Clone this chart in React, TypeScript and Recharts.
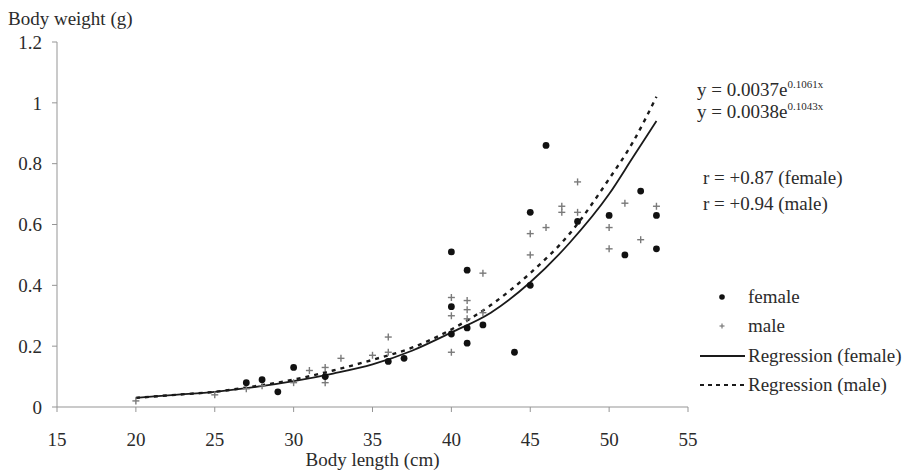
import React from 'react';
import { ComposedChart, Scatter, Line, XAxis, YAxis } from 'recharts';

const femaleLength = [27, 28, 29, 30, 32, 36, 37, 40, 40, 40, 41, 41, 41, 42, 44, 45, 45, 46, 48, 50, 51, 52, 53, 53];
const femaleWeight = [0.08, 0.09, 0.05, 0.13, 0.1, 0.15, 0.16, 0.51, 0.33, 0.24, 0.45, 0.26, 0.21, 0.27, 0.18, 0.4, 0.64, 0.86, 0.61, 0.63, 0.5, 0.71, 0.63, 0.52];

const maleLength = [20, 25, 27, 28, 30, 31, 32, 32, 32, 33, 35, 36, 36, 40, 40, 40, 41, 41, 41, 42, 42, 45, 45, 46, 47, 47, 48, 48, 50, 50, 51, 52, 53];
const maleWeight = [0.02, 0.04, 0.06, 0.07, 0.08, 0.12, 0.13, 0.1, 0.08, 0.16, 0.17, 0.23, 0.18, 0.36, 0.3, 0.18, 0.35, 0.32, 0.29, 0.44, 0.31, 0.57, 0.5, 0.59, 0.66, 0.64, 0.74, 0.64, 0.59, 0.52, 0.67, 0.55, 0.66];

const regLength = [20, 22.5, 25, 27.5, 30, 32.5, 35, 37.5, 40, 42.5, 45, 47.5, 50, 51.5, 53];
const regFemale = [0.03, 0.04, 0.05, 0.065, 0.085, 0.11, 0.14, 0.185, 0.245, 0.31, 0.41, 0.54, 0.7, 0.82, 0.94];
const regMale = [0.03, 0.04, 0.05, 0.068, 0.09, 0.12, 0.155, 0.195, 0.255, 0.335, 0.44, 0.57, 0.75, 0.87, 1.02];

const xTicks = [15, 20, 25, 30, 35, 40, 45, 50, 55];
const yTicks = [0, 0.2, 0.4, 0.6, 0.8, 1, 1.2];

const femaleData = femaleLength.map((x, i) => ({ x, y: femaleWeight[i] }));
const maleData = maleLength.map((x, i) => ({ x, y: maleWeight[i] }));
const regFemaleData = regLength.map((x, i) => ({ x, y: regFemale[i] }));
const regMaleData = regLength.map((x, i) => ({ x, y: regMale[i] }));

const FONT = '"Liberation Serif", "Times New Roman", serif';
const TEXT = '#2b2b2b';
const AXIS = '#959595';
const FS = 19;

const DotShape = (props: any) => {
  const { cx, cy } = props;
  if (cx == null || cy == null) return null;
  return <circle cx={cx} cy={cy} r={3.4} fill="#111" />;
};

const PlusShape = (props: any) => {
  const { cx, cy } = props;
  if (cx == null || cy == null) return null;
  return (
    <g stroke="#7a7a7a" strokeWidth={1.4}>
      <line x1={cx - 3.5} x2={cx + 3.5} y1={cy} y2={cy} />
      <line x1={cx} x2={cx} y1={cy - 3.5} y2={cy + 3.5} />
    </g>
  );
};

const textStyle: React.CSSProperties = {
  position: 'absolute',
  fontFamily: FONT,
  fontSize: FS,
  color: TEXT,
  lineHeight: 1,
  whiteSpace: 'nowrap',
};

export default function App() {
  return (
    <div style={{ position: 'absolute', left: 0, top: 0, width: 911, height: 474, background: '#fff' }}>
      <ComposedChart
        width={911}
        height={474}
        margin={{ top: 42, right: 223, bottom: 0, left: 0 }}
      >
        <XAxis
          type="number"
          dataKey="x"
          domain={[15, 55]}
          ticks={xTicks}
          interval={0}
          allowDataOverflow
          height={67}
          stroke={AXIS}
          tickSize={5}
          tickMargin={21}
          tick={{ fill: TEXT, fontSize: FS, fontFamily: FONT }}
          label={{ value: 'Body length (cm)', position: 'insideBottom', offset: 8, fill: TEXT, fontSize: FS, fontFamily: FONT }}
        />
        <YAxis
          type="number"
          dataKey="y"
          domain={[0, 1.2]}
          ticks={yTicks}
          interval={0}
          allowDataOverflow
          width={57}
          stroke={AXIS}
          tickSize={5}
          tickMargin={10}
          tick={{ fill: TEXT, fontSize: FS, fontFamily: FONT }}
        />
        <Line
          data={regMaleData}
          dataKey="y"
          type="monotone"
          stroke="#1a1a1a"
          strokeWidth={2.4}
          strokeDasharray="4 5"
          dot={false}
          activeDot={false}
          isAnimationActive={false}
        />
        <Line
          data={regFemaleData}
          dataKey="y"
          type="monotone"
          stroke="#1a1a1a"
          strokeWidth={1.8}
          dot={false}
          activeDot={false}
          isAnimationActive={false}
        />
        <Scatter data={maleData} dataKey="y" shape={PlusShape} isAnimationActive={false} />
        <Scatter data={femaleData} dataKey="y" shape={DotShape} isAnimationActive={false} />
      </ComposedChart>

      <div style={{ ...textStyle, left: 8, top: 9 }}>Body weight (g)</div>

      <div style={{ ...textStyle, left: 697, top: 80 }}>
        y = 0.0037e<span style={{ fontSize: 11, position: 'relative', top: -8 }}>0.1061x</span>
      </div>
      <div style={{ ...textStyle, left: 697, top: 102 }}>
        y = 0.0038e<span style={{ fontSize: 11, position: 'relative', top: -8 }}>0.1043x</span>
      </div>

      <div style={{ ...textStyle, left: 703, top: 168 }}>r = +0.87 (female)</div>
      <div style={{ ...textStyle, left: 703, top: 194 }}>r = +0.94 (male)</div>

      <svg style={{ position: 'absolute', left: 0, top: 0 }} width={911} height={474} pointerEvents="none">
        <circle cx={722} cy={297} r={2.8} fill="#111" />
        <g stroke="#7a7a7a" strokeWidth={1.2}>
          <line x1={719.5} x2={724.5} y1={326} y2={326} />
          <line x1={722} x2={722} y1={323.5} y2={328.5} />
        </g>
        <line x1={700} x2={745} y1={356} y2={356} stroke="#1a1a1a" strokeWidth={1.8} />
        <line x1={700} x2={745} y1={385} y2={385} stroke="#1a1a1a" strokeWidth={2.2} strokeDasharray="4 4" />
      </svg>
      <div style={{ ...textStyle, left: 748, top: 287 }}>female</div>
      <div style={{ ...textStyle, left: 748, top: 316 }}>male</div>
      <div style={{ ...textStyle, left: 748, top: 346 }}>Regression (female)</div>
      <div style={{ ...textStyle, left: 748, top: 375 }}>Regression (male)</div>
    </div>
  );
}
